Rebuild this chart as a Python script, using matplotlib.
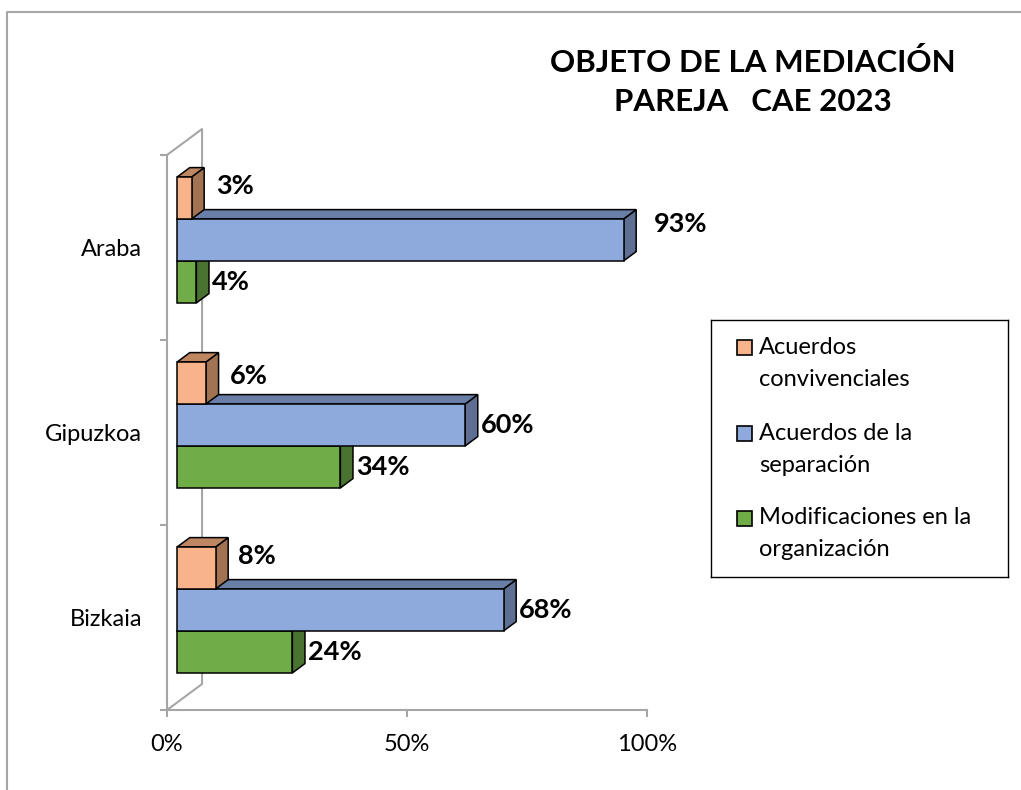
import matplotlib
matplotlib.use('Agg')
import matplotlib.pyplot as plt
from matplotlib.patches import Polygon, Rectangle
from matplotlib.lines import Line2D

# data
categories = ['Araba', 'Gipuzkoa', 'Bizkaia']
series = ['Acuerdos\nconvivenciales', 'Acuerdos de la\nseparación',
          'Modificaciones en la\norganización']
convivenciales = [3, 6, 8]
separacion = [93, 60, 68]
modificaciones = [4, 34, 24]
x_ticks = [0, 50, 100]

values = [convivenciales, separacion, modificaciones]
front_cols = ['#F9B38A', '#8EA9DB', '#70AD47']
top_cols = ['#BF8662', '#6A7FA8', '#578A37']
side_cols = ['#A27352', '#5E6F93', '#4A7230']
wall_col = '#A6A6A6'

plt.rcParams['font.family'] = ['Lato', 'DejaVu Sans']

W, H = 1021, 790
fig = plt.figure(figsize=(W / 100, H / 100), dpi=100)
ax = fig.add_axes([167 / W, 80 / H, 480 / W, 555 / H])
ax.set_xlim(0, 100)
ax.set_ylim(0, 3)

# 3D look: full depth of the wall, bar depth range and bar thickness
DX, DY = 7.3, 0.1405
f0, f1 = 0.29, 0.65
bar_h = 0.227
x0 = f0 * DX
ddx, ddy = (f1 - f0) * DX, (f1 - f0) * DY

# label nudges in pixels (series, category) -> (dx, dy)
label_nudge = {(0, 0): (9, 12), (0, 1): (8, 7), (0, 2): (7, 12), (1, 0): (15, 16)}

for j in reversed(range(len(values))):
    z = 4 + 3 * (len(values) - 1 - j)
    for i, cat in enumerate(categories):
        v = values[j][i]
        c = len(categories) - 1 - i + 0.5 + f0 * DY
        y0 = c + (0.5 - j) * bar_h
        side = Polygon([(x0 + v, y0), (x0 + v + ddx, y0 + ddy),
                        (x0 + v + ddx, y0 + bar_h + ddy), (x0 + v, y0 + bar_h)],
                       closed=True, fc=side_cols[j], ec='black', lw=1.1, zorder=z,
                       clip_on=False, joinstyle='miter')
        top = Polygon([(x0, y0 + bar_h), (x0 + v, y0 + bar_h),
                       (x0 + v + ddx, y0 + bar_h + ddy), (x0 + ddx, y0 + bar_h + ddy)],
                      closed=True, fc=top_cols[j], ec='black', lw=1.1, zorder=z + 1,
                      clip_on=False, joinstyle='miter')
        front = Rectangle((x0, y0), v, bar_h, fc=front_cols[j], ec='black',
                          lw=1.1, zorder=z + 2, clip_on=False, joinstyle='miter')
        ax.add_patch(side)
        ax.add_patch(top)
        ax.add_patch(front)
        nx, ny = label_nudge.get((j, i), (0, 0))
        ax.annotate(f'{v}%', (x0 + v + ddx, y0 + bar_h / 2),
                    xytext=(3 + nx, ny), textcoords='offset pixels',
                    ha='left', va='center', fontsize=19.5, fontweight='bold',
                    zorder=20, annotation_clip=False)

# wall
ax.plot([0, DX, DX, 0], [3, 3 + DY, DY, 0], color=wall_col, lw=1.5,
        clip_on=False, zorder=1)

for s in ['top', 'right']:
    ax.spines[s].set_visible(False)
for s in ['left', 'bottom']:
    ax.spines[s].set_color(wall_col)
    ax.spines[s].set_linewidth(1.5)

ax.set_xticks(x_ticks, labels=[f'{t}%' for t in x_ticks])
ax.set_yticks([len(categories) - 1 - i + 0.5 for i in range(len(categories))],
              labels=categories)
ax.set_yticks(range(len(categories) + 1), minor=True)
ax.tick_params(axis='y', which='major', length=0, pad=18, labelsize=17)
ax.tick_params(axis='y', which='minor', length=5, width=1.5, color=wall_col)
ax.tick_params(axis='x', length=5, width=1.5, color=wall_col, pad=12, labelsize=17)

# legend box
lg = fig.add_axes([711 / W, (H - 577) / H, 297 / W, 257 / H])
lg.set_xlim(0, 297)
lg.set_ylim(257, 0)
lg.set_xticks([])
lg.set_yticks([])
for s in lg.spines.values():
    s.set_color('black')
    s.set_linewidth(1.0)
for k, lab in enumerate(series):
    yc = 28 + 85 * k
    lg.add_patch(Rectangle((26, yc - 7.5), 15, 15, fc=front_cols[k], ec='black', lw=1.2))
    for n, line in enumerate(lab.split('\n')):
        lg.text(48, yc + 32 * n, line, ha='left', va='center', fontsize=17)

# title
fig.text(753 / W, 1 - 62 / H, 'OBJETO DE LA MEDIACIÓN', ha='center', va='center',
         fontsize=22.5, fontweight='bold')
fig.text(753 / W, 1 - 102 / H, 'PAREJA   CAE 2023', ha='center', va='center',
         fontsize=22.5, fontweight='bold')

# outer border (cropped chart area)
fig.add_artist(Line2D([7 / W, 7 / W, 1], [0, 1 - 12 / H, 1 - 12 / H],
                      transform=fig.transFigure, color=wall_col, lw=1.5))

fig.savefig('out.png', dpi=100)
